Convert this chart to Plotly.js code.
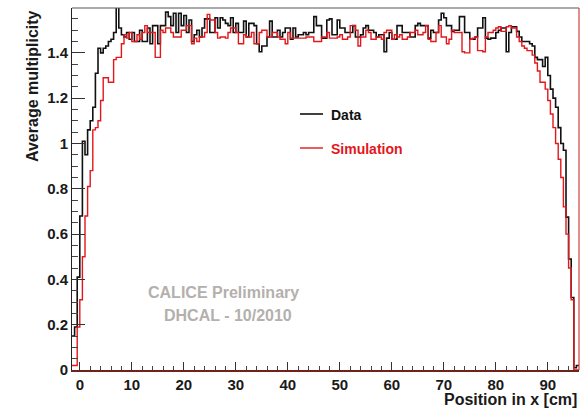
<!DOCTYPE html>
<html>
<head>
<meta charset="utf-8">
<script src="https://cdn.plot.ly/plotly-3.0.1.min.js"></script>
<style>html,body{margin:0;padding:0;background:#fff}#chart{width:588px;height:408px}</style>
</head>
<body>
<div id="chart"></div>
<script>
// Histogram binning (cm)
const binLow = -1.5;
const binWidth = 0.5;

// Average multiplicity per bin, Data (black)
const dataValues = [
0.15,0.19,0.41,0.68,1.01,0.95,1.06,1.10,1.16,1.31,
1.42,1.40,1.42,1.43,1.45,1.46,1.49,1.62,1.51,1.48,
1.47,1.49,1.46,1.49,1.45,1.45,1.50,1.45,1.45,1.51,
1.44,1.52,1.52,1.44,1.52,1.52,1.58,1.56,1.52,1.575,
1.49,1.575,1.52,1.565,1.49,1.545,1.45,1.48,1.50,1.47,
1.51,1.55,1.55,1.49,1.49,1.555,1.51,1.555,1.545,1.53,
1.52,1.555,1.49,1.53,1.49,1.49,1.54,1.47,1.53,1.53,
1.52,1.44,1.405,1.43,1.43,1.47,1.54,1.47,1.47,1.50,
1.47,1.49,1.51,1.51,1.46,1.51,1.47,1.48,1.48,1.49,
1.48,1.49,1.49,1.56,1.52,1.52,1.465,1.465,1.545,1.55,
1.48,1.48,1.545,1.51,1.51,1.49,1.49,1.49,1.52,1.47,
1.47,1.48,1.51,1.52,1.50,1.50,1.49,1.47,1.48,1.48,
1.405,1.465,1.49,1.46,1.46,1.52,1.52,1.49,1.49,1.49,
1.47,1.47,1.52,1.53,1.52,1.52,1.52,1.465,1.50,1.49,
1.49,1.545,1.575,1.555,1.52,1.52,1.495,1.50,1.50,1.56,
1.56,1.49,1.49,1.46,1.46,1.47,1.51,1.51,1.555,1.465,
1.46,1.465,1.465,1.49,1.50,1.51,1.51,1.405,1.49,1.515,
1.515,1.495,1.47,1.45,1.45,1.45,1.44,1.43,1.38,1.37,
1.37,1.34,1.38,1.30,1.24,1.20,1.16,1.07,1.00,0.97,
0.675,0.49,0.32,0.01,0.02
];

// Average multiplicity per bin, Simulation (red)
const simValues = [
0.02,0.02,0.19,0.31,0.50,0.68,0.81,0.88,1.06,1.07,
1.10,1.19,1.29,1.29,1.27,1.27,1.37,1.38,1.38,1.44,
1.48,1.465,1.49,1.45,1.45,1.48,1.46,1.49,1.52,1.49,
1.49,1.49,1.38,1.38,1.50,1.49,1.51,1.51,1.49,1.47,
1.47,1.47,1.50,1.50,1.52,1.52,1.44,1.465,1.45,1.47,
1.47,1.49,1.57,1.545,1.545,1.49,1.465,1.47,1.47,1.465,
1.49,1.51,1.51,1.49,1.44,1.44,1.48,1.47,1.47,1.49,
1.44,1.44,1.49,1.50,1.50,1.47,1.47,1.49,1.49,1.47,
1.46,1.46,1.44,1.49,1.465,1.465,1.465,1.465,1.465,1.465,
1.47,1.47,1.47,1.45,1.45,1.45,1.47,1.47,1.49,1.465,
1.465,1.465,1.47,1.48,1.46,1.46,1.47,1.52,1.52,1.50,
1.43,1.47,1.47,1.50,1.49,1.46,1.46,1.47,1.47,1.46,
1.49,1.50,1.50,1.46,1.48,1.47,1.48,1.46,1.46,1.47,
1.49,1.49,1.50,1.48,1.48,1.49,1.52,1.46,1.45,1.45,
1.49,1.52,1.47,1.47,1.44,1.46,1.50,1.49,1.49,1.49,
1.405,1.40,1.40,1.46,1.465,1.47,1.41,1.41,1.405,1.47,
1.49,1.49,1.50,1.51,1.515,1.495,1.495,1.515,1.52,1.51,
1.51,1.47,1.45,1.43,1.42,1.41,1.41,1.39,1.355,1.32,
1.27,1.27,1.24,1.19,1.13,1.07,1.00,0.93,0.85,0.72,
0.60,0.45,0.31,0,0
];

const xTickVals = [0,10,20,30,40,50,60,70,80,90];
const yTickVals = [0,0.2,0.4,0.6,0.8,1,1.2,1.4];
const yTickText = ["0","0.2","0.4","0.6","0.8","1","1.2","1.4"];

function stepTrace(values, color, width, name) {
  const x = [], y = [];
  for (let i = 0; i < values.length; i++) {
    x.push(binLow + i * binWidth);
    y.push(values[i]);
  }
  x.push(binLow + values.length * binWidth);
  y.push(values[values.length - 1]);
  return {x: x, y: y, type: 'scatter', mode: 'lines', name: name,
          line: {shape: 'hv', color: color, width: width}, hoverinfo: 'skip'};
}

const FONT = 'Liberation Sans, Arial, Helvetica, sans-serif';
const W = 507, H = 362, L = 72, T = 8;
const px = v => (v - L) / W;
const py = v => (T + H - v) / H;

const traces = [
  stepTrace(dataValues, '#111111', 1.6, 'Data'),
  stepTrace(simValues, '#e3161b', 1.4, 'Simulation')
];

const layout = {
  width: 588, height: 408,
  margin: {l: 72, r: 9, t: 8, b: 38, pad: 0},
  paper_bgcolor: '#ffffff', plot_bgcolor: '#ffffff',
  showlegend: false,
  font: {family: FONT, color: '#1a1a1a'},
  xaxis: {
    range: [-1.5, 96], tickvals: xTickVals, ticks: 'inside', ticklen: 8, tickwidth: 1,
    tickcolor: '#333', showgrid: false, zeroline: false,
    showline: true, linecolor: '#6e221c', linewidth: 1.5,
    tickfont: {family: FONT, size: 15, weight: 'bold', color: '#1a1a1a'},
    minor: {dtick: 2, ticks: 'inside', ticklen: 4, tickcolor: '#444', showgrid: false},
    fixedrange: true
  },
  yaxis: {
    range: [0, 1.598], tickvals: yTickVals, ticktext: yTickText, ticks: 'inside', ticklen: 13, tickwidth: 1,
    tickcolor: '#333', showgrid: false, zeroline: false,
    showline: true, linecolor: '#222', linewidth: 1,
    tickfont: {family: FONT, size: 15, weight: 'bold', color: '#1a1a1a'},
    minor: {dtick: 0.05, ticks: 'inside', ticklen: 6, tickcolor: '#444', showgrid: false},
    fixedrange: true
  },
  shapes: [
    {type: 'line', xref: 'paper', yref: 'paper', x0: 0, x1: 1, y0: 1, y1: 1, line: {color: '#555', width: 1}},
    {type: 'line', xref: 'paper', yref: 'paper', x0: 1, x1: 1, y0: 0, y1: 1, line: {color: '#d04040', width: 1.2}},
    {type: 'line', xref: 'paper', yref: 'paper', x0: px(300), x1: px(323), y0: py(114), y1: py(114), line: {color: '#111', width: 1.6}},
    {type: 'line', xref: 'paper', yref: 'paper', x0: px(300), x1: px(323), y0: py(148), y1: py(148), line: {color: '#e3161b', width: 1.4}}
  ],
  annotations: [
    {text: 'Average multiplicity', textangle: -90, xref: 'paper', yref: 'paper', x: px(32), y: 1.0,
     xanchor: 'center', yanchor: 'top', showarrow: false, font: {family: FONT, size: 16, weight: 'bold', color: '#1a1a1a'}},
    {text: 'Position in x [cm]', xref: 'paper', yref: 'paper', x: 1, y: py(399),
     xanchor: 'right', yanchor: 'middle', showarrow: false, font: {family: FONT, size: 16, weight: 'bold', color: '#1a1a1a'}},
    {text: 'Data', xref: 'paper', yref: 'paper', x: px(329), y: py(115),
     xanchor: 'left', yanchor: 'middle', showarrow: false, font: {family: FONT, size: 14, weight: 'bold', color: '#111'}},
    {text: 'Simulation', xref: 'paper', yref: 'paper', x: px(329), y: py(149),
     xanchor: 'left', yanchor: 'middle', showarrow: false, font: {family: FONT, size: 14, weight: 'bold', color: '#e3161b'}},
    {text: 'CALICE Preliminary', xref: 'paper', yref: 'paper', x: px(146), y: py(292),
     xanchor: 'left', yanchor: 'middle', showarrow: false, font: {family: FONT, size: 16, weight: 'bold', color: '#b4b0ad'}},
    {text: 'DHCAL - 10/2010', xref: 'paper', yref: 'paper', x: px(162), y: py(315),
     xanchor: 'left', yanchor: 'middle', showarrow: false, font: {family: FONT, size: 16, weight: 'bold', color: '#b4b0ad'}}
  ]
};

Plotly.newPlot('chart', traces, layout, {staticPlot: true, displayModeBar: false});
</script>
</body>
</html>
